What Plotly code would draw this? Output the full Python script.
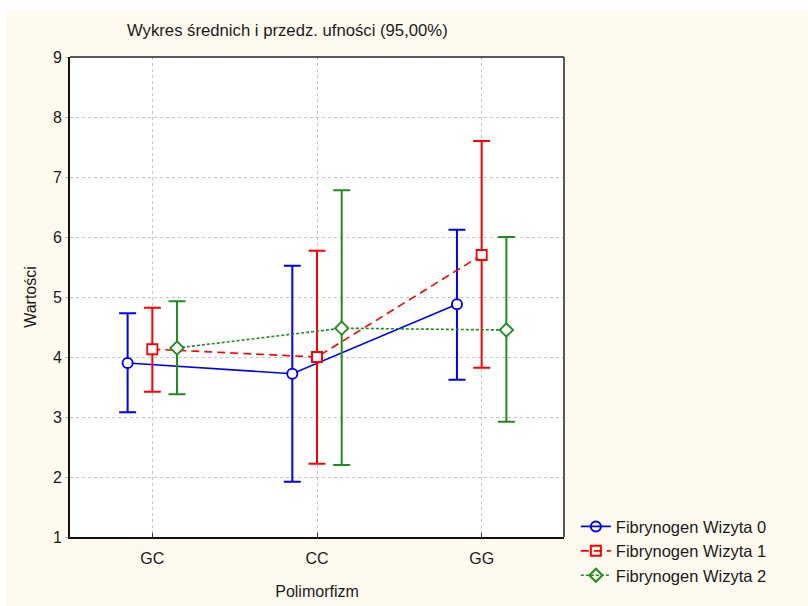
import plotly.graph_objects as go

# Genotype categories on the x axis
categories = ["GC", "CC", "GG"]

# Fibrinogen means and 95% confidence limits for each visit
visit0_mean = [3.90, 3.72, 4.88]
visit0_upper = [4.73, 5.52, 6.12]
visit0_lower = [3.08, 1.92, 3.62]

visit1_mean = [4.13, 4.00, 5.70]
visit1_upper = [4.82, 5.77, 7.60]
visit1_lower = [3.42, 2.22, 3.82]

visit2_mean = [4.15, 4.48, 4.45]
visit2_upper = [4.93, 6.78, 6.00]
visit2_lower = [3.38, 2.20, 2.92]

series_names = ["Fibrynogen Wizyta 0", "Fibrynogen Wizyta 1", "Fibrynogen Wizyta 2"]

FONT = "Arial, Liberation Sans, sans-serif"
CREAM = "#FFFAF0"

series = [
    (series_names[0], visit0_mean, visit0_upper, visit0_lower, "#0000FF", "solid", "circle-open", -0.15),
    (series_names[1], visit1_mean, visit1_upper, visit1_lower, "#FF0000", "8px,5px", "square-open", 0.0),
    (series_names[2], visit2_mean, visit2_upper, visit2_lower, "#1E8C1E", "3px,2px", "diamond-open", 0.15),
]

fig = go.Figure()
for name, mean, upper, lower, color, dash, symbol, shift in series:
    xs = [i + shift for i in range(len(categories))]
    fig.add_trace(go.Scatter(
        x=xs, y=mean, name=name, mode="lines+markers",
        line=dict(color=color, width=1.6, dash=dash),
        marker=dict(symbol=symbol, size=10, color=color, line=dict(color=color, width=2)),
        error_y=dict(
            type="data", symmetric=False,
            array=[u - m for u, m in zip(upper, mean)],
            arrayminus=[m - l for m, l in zip(mean, lower)],
            color=color, thickness=2, width=8.5,
        ),
    ))
    # white fill inside the open markers
    fig.add_trace(go.Scatter(
        x=xs, y=mean, mode="markers", showlegend=False, hoverinfo="skip",
        marker=dict(symbol=symbol.replace("-open", ""), size=8, color="white",
                    line=dict(width=0)),
    ))

fig.update_layout(
    width=808, height=606,
    margin=dict(l=70, r=244, t=57, b=69),
    paper_bgcolor="white",
    plot_bgcolor="rgba(0,0,0,0)",
    font=dict(family=FONT, size=16, color="#1a1a1a"),
    showlegend=True,
    legend=dict(
        x=1.024, y=0.058, xanchor="left", yanchor="top",
        bgcolor="rgba(0,0,0,0)", font=dict(size=16.5, family=FONT),
        tracegroupgap=0,
    ),
    shapes=[
        dict(type="rect", xref="paper", yref="paper", layer="below",
             x0=(6 - 70) / 494, x1=(810 - 70) / 494,
             y0=(537 - 610) / 480, y1=(537 - 10) / 480,
             fillcolor=CREAM, line=dict(width=0)),
        dict(type="rect", xref="paper", yref="paper", layer="below",
             x0=0, x1=1, y0=0, y1=1, fillcolor="white", line=dict(width=0)),
        dict(type="line", xref="paper", yref="paper", x0=0, x1=1, y0=1, y1=1,
             line=dict(color="#222", width=1.5)),
        dict(type="line", xref="paper", yref="paper", x0=1, x1=1, y0=0, y1=1,
             line=dict(color="#222", width=1.5)),
    ],
    annotations=[
        dict(text="Wykres średnich i przedz. ufności (95,00%)", xref="paper", yref="paper",
             x=(287 - 70) / 494, y=(537 - 30) / 480, xanchor="center", yanchor="middle",
             showarrow=False, font=dict(size=16.7, family=FONT, color="#1a1a1a")),
    ],
)

fig.update_xaxes(
    range=[-0.5, 2.5], tickmode="array", tickvals=list(range(len(categories))),
    ticktext=categories, showgrid=True, gridcolor="#c4c4c4", griddash="dot", gridwidth=1,
    zeroline=False, showline=True, linecolor="#111", linewidth=2,
    ticks="inside", ticklen=4, tickcolor="#333", tickfont=dict(size=16),
    ticklabelstandoff=6, automargin=False,
    title=dict(text="Polimorfizm", font=dict(size=16), standoff=20),
)
fig.update_yaxes(
    range=[1, 9], dtick=1, showgrid=True, gridcolor="#c4c4c4", griddash="dot", gridwidth=1,
    zeroline=False, showline=True, linecolor="#111", linewidth=2,
    ticks="outside", ticklen=3, tickcolor="#bbb", tickfont=dict(size=16),
    automargin=False,
    title=dict(text="Wartości", font=dict(size=16), standoff=12),
)

fig.write_html("out.html")
